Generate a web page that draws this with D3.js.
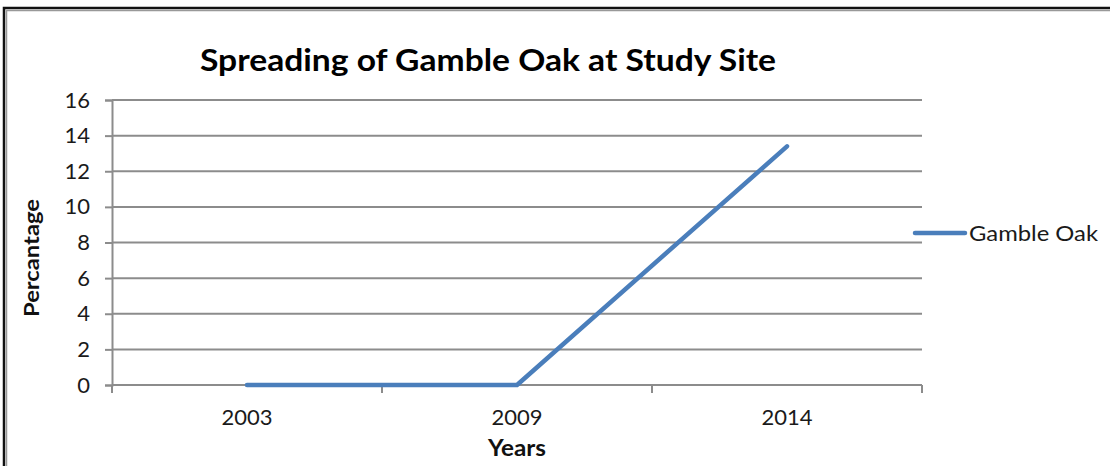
<!DOCTYPE html>
<html>
<head>
<meta charset="utf-8">
<script src="https://cdn.jsdelivr.net/npm/d3@7"></script>
<style>
  body { margin: 0; background: #fff; }
  svg { display: block; font-family: Lato, "Open Sans", sans-serif; }
</style>
</head>
<body>
<div id="chart"></div>
<script>
const years = ['2003', '2009', '2014'];
const gambleOak = [0, 0, 13.4];
const yTicks = [0, 2, 4, 6, 8, 10, 12, 14, 16];
const seriesName = 'Gamble Oak';

const W = 1110, H = 466;
const margin = { top: 100, left: 112, right: 188, bottom: 81 };
const FONT = 'Lato, "Open Sans", sans-serif';

const svg = d3.select('#chart')
    .append('svg')
    .attr('width', W)
    .attr('height', H);

// outer frame (only top and left visible in the crop)
svg.append('path')
    .attr('d', `M4,${H} V8 H${W}`)
    .attr('fill', 'none')
    .attr('stroke', '#111')
    .attr('stroke-width', 2.5);
svg.append('path')
    .attr('d', `M6.5,${H} V10.5 H${W}`)
    .attr('fill', 'none')
    .attr('stroke', '#999')
    .attr('stroke-width', 1.5);

let x = d3.scaleBand().domain(years).range([margin.left, W - margin.right]);
let y = d3.scaleLinear().domain([0, 16]).range([H - margin.bottom, margin.top]);

// gridlines
svg.append('g')
    .selectAll('line')
    .data(yTicks)
    .enter()
    .append('line')
    .attr('x1', margin.left)
    .attr('x2', W - margin.right)
    .attr('y1', d => y(d))
    .attr('y2', d => y(d))
    .attr('stroke', '#8c8c8c')
    .attr('stroke-width', 2);

/** y axis */
let yAxis = svg.append('g')
    .attr('transform', `translate(${margin.left},0)`)
    .call(d3.axisLeft(y).tickValues(yTicks).tickSize(7).tickPadding(15));
yAxis.select('.domain').attr('stroke', '#8c8c8c').attr('stroke-width', 2);
yAxis.selectAll('.tick line').attr('stroke', '#8c8c8c').attr('stroke-width', 2);
yAxis.selectAll('.tick text')
    .attr('font-size', 22)
    .attr('font-family', FONT)
    .attr('fill', '#1a1a1a');

/** x axis: ticks on band edges */
let xAxis = svg.append('g')
    .attr('transform', `translate(0,${y(0)})`);
xAxis.append('line')
    .attr('x1', margin.left).attr('x2', W - margin.right)
    .attr('stroke', '#8c8c8c').attr('stroke-width', 2);
let edges = years.map(d => x(d)).concat([x(years[years.length - 1]) + x.bandwidth()]);
xAxis.selectAll('line.edge')
    .data(edges)
    .enter()
    .append('line')
    .attr('class', 'edge')
    .attr('x1', d => d).attr('x2', d => d)
    .attr('y1', 0).attr('y2', 8)
    .attr('stroke', '#8c8c8c').attr('stroke-width', 2);
xAxis.selectAll('text')
    .data(years)
    .enter()
    .append('text')
    .attr('x', d => x(d) + x.bandwidth() / 2)
    .attr('y', 40)
    .attr('text-anchor', 'middle')
    .attr('font-size', 22)
    .attr('fill', '#1a1a1a')
    .text(d => d);

/** the series line */
let line = d3.line()
    .x((d, i) => x(years[i]) + x.bandwidth() / 2)
    .y(d => y(d));
svg.append('path')
    .datum(gambleOak)
    .attr('d', line)
    .attr('fill', 'none')
    .attr('stroke', '#4a7ebb')
    .attr('stroke-width', 4.5)
    .attr('stroke-linecap', 'round')
    .attr('stroke-linejoin', 'round');

/** legend */
svg.append('line')
    .attr('x1', 915).attr('x2', 965)
    .attr('y1', 233).attr('y2', 233)
    .attr('stroke', '#4a7ebb')
    .attr('stroke-width', 4.5)
    .attr('stroke-linecap', 'round');
svg.append('text')
    .attr('x', 969).attr('y', 241)
    .attr('font-size', 21)
    .attr('fill', '#1a1a1a')
    .attr('textLength', 129)
    .attr('lengthAdjust', 'spacingAndGlyphs')
    .text(seriesName);

/** title */
svg.append('text')
    .attr('x', 488).attr('y', 71)
    .attr('text-anchor', 'middle')
    .attr('font-size', 30)
    .attr('font-weight', 'bold')
    .attr('fill', '#000')
    .attr('textLength', 576)
    .attr('lengthAdjust', 'spacingAndGlyphs')
    .text('Spreading of Gamble Oak at Study Site');

/** axis titles */
svg.append('text')
    .attr('x', 517).attr('y', 456)
    .attr('text-anchor', 'middle')
    .attr('font-size', 22)
    .attr('font-weight', 'bold')
    .attr('fill', '#111')
    .attr('textLength', 58)
    .attr('lengthAdjust', 'spacingAndGlyphs')
    .text('Years');
svg.append('text')
    .attr('transform', 'translate(39,258) rotate(-90)')
    .attr('text-anchor', 'middle')
    .attr('font-size', 21)
    .attr('font-weight', 'bold')
    .attr('fill', '#111')
    .attr('textLength', 118)
    .attr('lengthAdjust', 'spacingAndGlyphs')
    .text('Percantage');
</script>
</body>
</html>
